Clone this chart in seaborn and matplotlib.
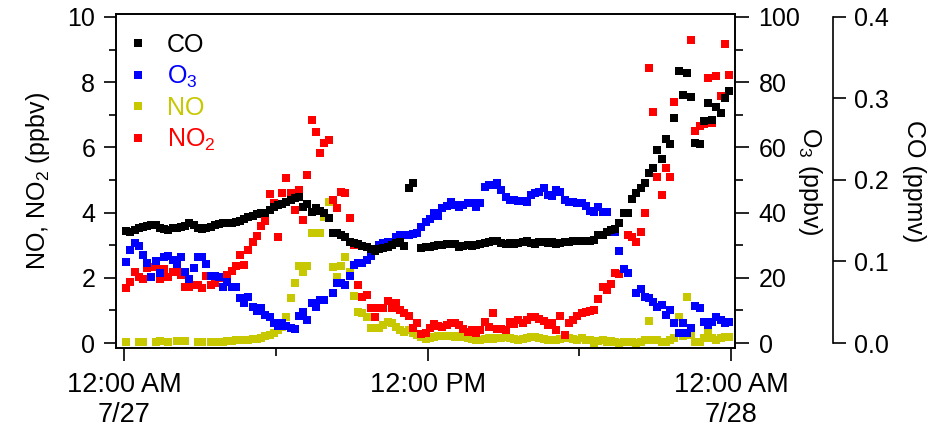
import numpy as np
import pandas as pd
import matplotlib
matplotlib.use("Agg")
import matplotlib.pyplot as plt
import seaborn as sns
from matplotlib.lines import Line2D
from matplotlib.ticker import FixedLocator, FormatStrFormatter

nan = np.nan

# sampling times: 10-minute averages starting 00:05 on 7/27
sample_minutes = np.arange(144) * 10 + 5

co_ppmv = [
    0.138, 0.136, 0.139, 0.141, 0.142, 0.144, 0.145, 0.145, 0.141, 0.140,
    0.139, 0.141, 0.141, 0.142, 0.144, 0.147, 0.145, 0.141, 0.140, 0.141,
    0.142, 0.145, 0.146, 0.147, 0.147, 0.147, 0.148, 0.150, 0.152, 0.154,
    0.156, 0.158, 0.160, 0.160, 0.163, 0.167, 0.169, 0.171, 0.173, 0.176,
    0.178, 0.179, 0.167, 0.170, 0.161, 0.166, 0.162, 0.160, 0.153, 0.135,
    0.135, 0.132, 0.130, 0.124, 0.123, 0.122, 0.119, 0.118, 0.115, 0.113,
    0.115, 0.116, 0.118, 0.120, 0.123, 0.124, 0.119, 0.190, 0.196, nan,
    0.116, 0.118, 0.118, 0.119, 0.120, 0.120, 0.121, 0.121, 0.122, 0.118,
    0.119, 0.120, 0.119, 0.120, 0.122, 0.123, 0.124, 0.125, 0.125, 0.123,
    0.122, 0.123, 0.122, 0.123, 0.124, 0.125, 0.123, 0.122, 0.124, 0.124,
    0.123, 0.124, 0.122, 0.123, 0.124, 0.124, 0.125, 0.125, 0.125, 0.125,
    0.125, 0.126, 0.132, 0.133, 0.136, 0.139, 0.140, 0.147, 0.160, 0.160,
    0.177, 0.184, 0.190, 0.196, 0.208, 0.215, 0.237, 0.226, 0.250, 0.244,
    0.276, 0.334, 0.304, 0.331, 0.302, 0.245, 0.244, 0.272, 0.294, 0.274,
    0.290, 0.282, 0.301, 0.309,
]

o3_ppbv = [
    24.8, 28.5, 30.7, 29.8, 27.0, 24.5, 20.2, 25.2, 21.5, 26.4,
    26.7, 25.5, 24.2, 26.4, 21.8, 19.6, 23.0, 26.4, 26.4, 24.2,
    20.6, 20.6, 20.2, 17.2, 18.7, 17.2, 17.2, 13.8, 12.3, 14.1,
    11.0, 9.8, 10.7, 8.6, 8.0, 6.0, 5.2, 6.2, 5.2, 4.6,
    4.3, 8.3, 9.5, 7.1, 12.3, 11.0, 13.2, 13.2, nan, 15.3,
    18.4, 18.4, 17.8, 20.6, 23.9, 24.5, 24.5, 25.5, 26.7, 28.5,
    30.1, 30.7, 31.0, 31.0, 32.5, 33.1, 33.1, 33.1, 33.4, 33.7,
    35.6, 37.1, 38.0, 39.9, 39.0, 41.4, 42.0, 43.3, 42.3, 41.7,
    42.3, 42.9, 42.9, 41.7, 42.9, 47.9, 48.5, 48.5, 49.1, 46.9,
    44.8, 43.9, 43.9, 43.6, 43.6, 43.3, 45.4, 46.0, 46.3, 47.5,
    45.4, 45.1, 46.9, 46.3, 43.9, 43.3, 43.3, 42.9, 42.9, 42.0,
    40.5, 40.2, 41.7, 40.2, 40.2, nan, 34.0, 28.2, 22.7, 21.5,
    nan, 15.3, 16.6, 14.1, 13.8, 12.6, 11.0, 11.7, 8.6, 10.1,
    6.1, 3.1, 6.1, 3.1, 4.6, 11.3, 10.7, 6.4, 5.5, 6.4,
    8.0, 7.1, 6.1, 6.4,
]

no_ppbv = [
    0.02, nan, nan, 0.03, 0.03, nan, nan, 0.04, 0.05, nan,
    0.04, nan, 0.05, nan, 0.05, nan, nan, 0.03, 0.03, nan,
    0.03, 0.03, nan, 0.04, 0.05, 0.06, 0.08, 0.09, 0.10, 0.10,
    0.12, 0.13, 0.15, 0.20, 0.25, 0.31, 0.40, 0.49, 0.80, 1.38,
    1.84, 2.36, 2.18, 2.36, 3.37, 3.37, 3.37, 3.87, 4.33, 2.33,
    2.02, 2.36, 2.64, 2.18, 1.44, 0.95, 0.92, 0.80, 0.46, 0.46,
    0.46, 0.55, 0.64, 0.61, 0.49, 0.40, 0.34, 0.40, 0.31, 0.25,
    0.18, 0.12, 0.15, 0.18, 0.20, 0.21, 0.22, 0.20, 0.18, 0.20,
    0.17, 0.14, 0.12, 0.10, 0.08, 0.12, 0.15, 0.12, 0.14, 0.15,
    0.17, 0.14, 0.12, 0.10, 0.12, 0.15, 0.18, 0.17, 0.15, 0.12,
    0.10, 0.08, 0.10, 0.12, 0.15, 0.14, 0.12, 0.10, 0.15, 0.09,
    0.09, 0.00, 0.06, 0.09, 0.03, 0.06, 0.03, 0.00, 0.03, 0.03,
    0.03, 0.00, 0.03, 0.09, 0.67, 0.09, 0.09, 0.03, 0.03, 0.09,
    0.15, 0.80, 0.21, 1.41, 0.25, 0.03, 0.03, 0.15, 0.31, 0.15,
    0.09, 0.15, 0.18, 0.18,
]

no2_ppbv = [
    1.69, 1.87, 2.18, 2.02, 1.96, 2.30, 2.33, 2.33, 1.96, 2.27,
    2.02, 2.18, 2.18, 2.09, 1.72, 1.72, 1.78, 1.78, 1.69, 2.06,
    1.78, 1.84, 1.99, 2.02, 2.09, 2.20, 2.36, 2.70, 2.39, 2.85,
    3.10, 3.28, 3.59, 3.74, 4.57, 4.29, 3.25, 4.60, 5.06, 4.60,
    4.08, 4.69, 3.77, 5.15, 6.84, 6.47, 5.83, 6.13, 6.23, 4.39,
    4.14, 4.63, 4.60, 3.83, 3.01, 1.78, 1.41, 1.47, 1.07, 0.80,
    1.07, 1.07, 1.29, 1.07, 1.23, 1.01, 0.92, 0.83, 0.46, 0.61,
    0.28, 0.31, 0.46, 0.58, 0.52, 0.49, 0.55, 0.61, 0.61, 0.55,
    0.43, 0.35, 0.40, 0.31, 0.40, 0.64, 0.49, 0.92, 0.43, 0.43,
    0.40, 0.64, 0.58, 0.71, 0.61, 0.71, 0.80, 0.80, 0.75, 0.67,
    0.55, 0.61, 0.40, 0.83, 0.25, 0.61, 0.71, 0.83, 0.92, 0.95,
    0.98, 1.01, 1.35, 1.72, 1.63, 1.81, 2.15, 2.12, 2.27, 3.31,
    3.25, 3.10, 3.40, 3.99, 8.43, 7.09, 5.09, 4.54, 5.37, 5.09,
    7.39, nan, nan, nan, 9.29, 6.50, 6.66, 6.72, 8.13, 6.75,
    8.19, 7.58, 9.17, 8.22,
]

x_tick_hours = [0, 12, 24]
x_tick_labels = ["12:00 AM\n7/27", "12:00 PM", "12:00 AM\n7/28"]
x_minor_hours = [6, 18]

series_names = ["CO", "O$_3$", "NO", "NO$_2$"]
series_colors = ["#000000", "#0000FF", "#C8C800", "#FF0000"]

df = pd.DataFrame({
    "hour": sample_minutes / 60.0,
    "CO": co_ppmv,
    "O3": o3_ppbv,
    "NO": no_ppbv,
    "NO2": no2_ppbv,
})

sns.set_style("ticks", rc={"axes.edgecolor": "black", "xtick.color": "black",
                           "ytick.color": "black", "text.color": "black",
                           "axes.labelcolor": "black"})
plt.rcParams["font.family"] = ["Liberation Sans", "DejaVu Sans"]
plt.rcParams["mathtext.default"] = "regular"
plt.rcParams["font.size"] = 18

fig = plt.figure(figsize=(9.3, 4.32), dpi=100)
ax = fig.add_axes([116 / 930, 1 - 348 / 432, 619 / 930, 334 / 432])
ax2 = ax.twinx()
ax3 = ax.twinx()

msize = 29
sns.scatterplot(data=df, x="hour", y="NO", ax=ax, marker="s", s=msize,
                color=series_colors[2], linewidth=0, legend=False)
sns.scatterplot(data=df, x="hour", y="NO2", ax=ax, marker="s", s=msize,
                color=series_colors[3], linewidth=0, legend=False)
sns.scatterplot(data=df, x="hour", y="O3", ax=ax2, marker="s", s=msize,
                color=series_colors[1], linewidth=0, legend=False)
sns.scatterplot(data=df, x="hour", y="CO", ax=ax3, marker="s", s=msize,
                color=series_colors[0], linewidth=0, legend=False)

ax.set_xlim(-0.32, 24.15)
ax.set_ylim(-0.153, 10.09)
ax2.set_ylim(-1.53, 100.9)
ax3.set_ylim(-0.00612, 0.4036)

lw = 1.2
for a in (ax, ax2, ax3):
    for sp in a.spines.values():
        sp.set_linewidth(lw)
        sp.set_color("black")

ax.xaxis.set_major_locator(FixedLocator(x_tick_hours))
ax.set_xticklabels(x_tick_labels)
ax.xaxis.set_minor_locator(FixedLocator(x_minor_hours))
ax.tick_params(axis="x", which="major", direction="out", length=9, width=lw, pad=8,
               labelsize=19.5)
ax.tick_params(axis="x", which="minor", direction="out", length=6, width=lw)

ax.set_yticks([0, 2, 4, 6, 8, 10])
ax.yaxis.set_minor_locator(FixedLocator([1, 3, 5, 7, 9]))
ax.tick_params(axis="y", which="major", direction="out", length=9, width=lw, pad=6, labelsize=18)
ax.tick_params(axis="y", which="minor", direction="out", length=5, width=lw)
ax.spines["top"].set_visible(True)
ax.spines["right"].set_visible(True)

ax2.set_yticks([0, 20, 40, 60, 80, 100])
ax2.yaxis.set_minor_locator(FixedLocator([10, 30, 50, 70, 90]))
ax2.tick_params(axis="y", which="major", direction="out", length=10, width=lw, pad=7, labelsize=18)
ax2.tick_params(axis="y", which="minor", direction="out", length=6, width=lw)

for side in ("left", "top", "bottom"):
    ax3.spines[side].set_visible(False)
ax3.spines["right"].set_position(("axes", (833 - 116) / 619))
ax3.spines["right"].set_bounds(0, 0.4)
ax3.set_yticks([0.0, 0.1, 0.2, 0.3, 0.4])
ax3.yaxis.set_major_formatter(FormatStrFormatter("%.1f"))
ax3.tick_params(axis="y", which="major", direction="out", length=9, width=lw, pad=6, labelsize=18)
ax3.tick_params(axis="y", which="minor", length=0)

ax.set_xlabel("")
ax.set_ylabel("NO, NO$_2$ (ppbv)", fontsize=18)
ax.yaxis.label.set_verticalalignment("center")
ax.yaxis.set_label_coords((38 - 116) / 619, 0.5)
ax2.set_ylabel("O$_3$ (ppbv)", fontsize=18, rotation=270)
ax2.yaxis.label.set_verticalalignment("center")
ax2.yaxis.set_label_coords((810 - 116) / 619, 0.5)
ax3.set_ylabel("CO (ppmv)", fontsize=18, rotation=270)
ax3.yaxis.label.set_verticalalignment("center")
ax3.yaxis.set_label_coords((914 - 116) / 619, 0.5)

handles = [Line2D([], [], marker="s", linestyle="none", markersize=5.4,
                  markerfacecolor=c, markeredgewidth=0) for c in series_colors]
leg = ax3.legend(handles, series_names, loc="upper left",
                 bbox_to_anchor=((128 - 116) / 619, (348 - 33) / 334),
                 frameon=False, borderpad=0, borderaxespad=0,
                 handlelength=0.8, handletextpad=0.75, labelspacing=0.26,
                 fontsize=18)
for txt, c in zip(leg.get_texts(), series_colors):
    txt.set_color(c)

fig.savefig("out.png", dpi=100)
